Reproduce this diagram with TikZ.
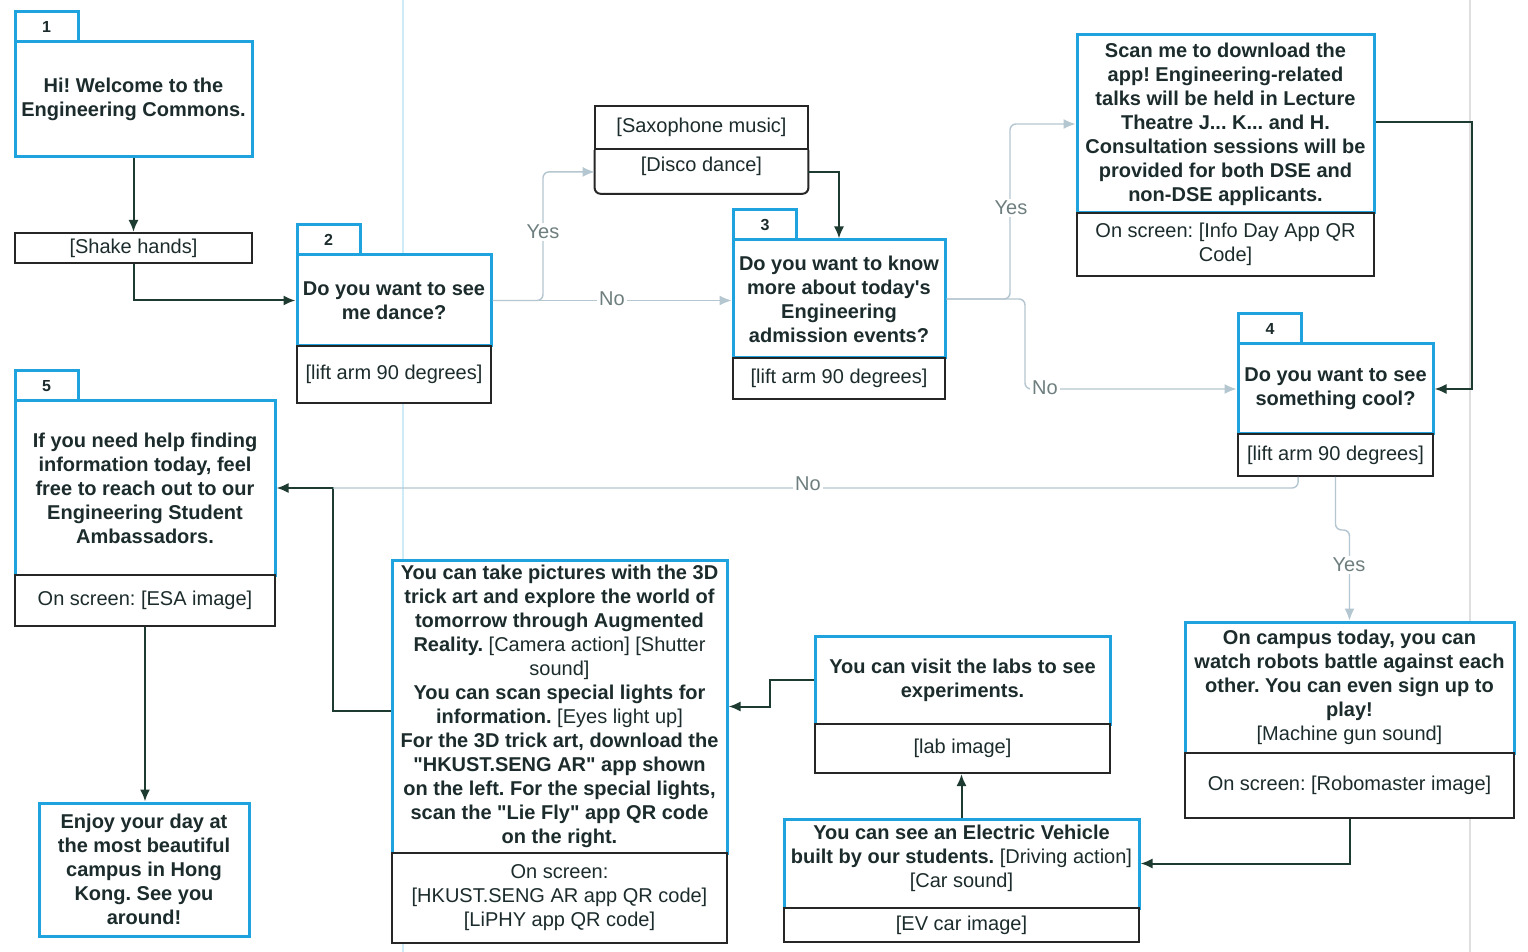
\documentclass[tikz,border=0pt]{standalone}
\usepackage{fontspec}
\setmainfont{Liberation Sans}[Ligatures=TeXOff]
\usetikzlibrary{arrows.meta,calc}
\definecolor{bl}{HTML}{1FA3DF}
\definecolor{dk}{HTML}{1D3B30}
\definecolor{tx}{HTML}{1C2B2B}
\definecolor{lt}{HTML}{B4C6D0}
\definecolor{lblc}{HTML}{6E7E7E}
\newcommand\bld[1]{\textbf{#1}}
\frenchspacing
\begin{document}
\begin{tikzpicture}[x=0.5pt,y=-0.5pt,
 every node/.style={font=\fontsize{10}{12}\selectfont, text=tx, align=center, inner sep=0pt},
 bfnt/.style={font=\fontsize{10}{12}\selectfont\bfseries},
 bbox/.style={draw=bl, line width=1.5pt, fill=white},
 kbox/.style={draw=black!85, line width=1pt, fill=white},
 numtab/.style={draw=bl, line width=1.5pt, fill=white, minimum width=31.5pt, minimum height=15pt, font=\fontsize{8}{10}\selectfont\bfseries},
 darr/.style={draw=dk, line width=1pt, -{Latex[length=6pt,width=5pt]}},
 larr/.style={draw=lt, line width=0.7pt, rounded corners=3pt, -{Latex[length=6pt,width=5pt]}},
 lline/.style={draw=lt, line width=0.7pt, rounded corners=3pt},
 cl/.style={fill=white, text=lblc, inner sep=1pt}
]
\fill[white] (0,0) rectangle (1528,952);
\useasboundingbox (0,0) rectangle (1528,952);
% faint guide lines
\draw[bl!22, line width=0.8pt] (403,0) -- (403,952);
\draw[gray!25, line width=0.6pt] (1470,0) -- (1470,952);

% node 1
\node[numtab] (t1) at (46.5,27) {1};
\node[bbox, bfnt, minimum width=118.5pt, minimum height=57.5pt] (n1) at (133.5,99.5) {Hi! Welcome to the\\Engineering Commons.};
\node[kbox, minimum width=118.5pt, minimum height=15pt] (shake) at (133.5,248) {[Shake hands]};

% node 2
\node[numtab] (t2) at (328.5,240) {2};
\node[bbox, bfnt, minimum width=97pt, minimum height=45.5pt] (n2) at (394,300.5) {Do you want to see\\me dance?};
\node[kbox, minimum width=97pt, minimum height=28.5pt] (n2b) at (394,374.5) {[lift arm 90 degrees]};

% saxophone
\node[kbox, minimum width=106.5pt, minimum height=21.5pt] (saxA) at (701.5,127.5) {[Saxophone music]};
\node[minimum width=106.5pt, minimum height=21.5pt, anchor=north] (saxB) at (saxA.south) {};
\node (saxT) at (701.5,166) {[Disco dance]};
\draw[black!85, line width=1pt, rounded corners=3pt] (saxB.north west) -- (saxB.south west) -- (saxB.south east) -- (saxB.north east);

% node 3
\node[numtab] (t3) at (765,225) {3};
\node[bbox, bfnt, minimum width=106pt, minimum height=59pt] (n3) at (839,299) {Do you want to know\\more about today's\\Engineering\\admission events?};
\node[kbox, minimum width=106pt, minimum height=20.5pt] (n3b) at (839,378.5) {[lift arm 90 degrees]};

% info box
\node[bbox, bfnt, minimum width=148.5pt, minimum height=89pt] (info) at (1225.5,124) {Scan me to download the\\app! Engineering-related\\talks will be held in Lecture\\Theatre J... K... and H.\\Consultation sessions will be\\provided for both DSE and\\non-DSE applicants.};
\node[kbox, minimum width=148.5pt, minimum height=31.5pt] (infob) at (1225.5,244.5) {On screen: [Info Day App QR\\Code]};

% node 4
\node[numtab] (t4) at (1270,329) {4};
\node[bbox, bfnt, minimum width=97.5pt, minimum height=45pt] (n4) at (1335.5,389) {Do you want to see\\something cool?};
\node[kbox, minimum width=97.5pt, minimum height=21pt] (n4b) at (1335.5,455) {[lift arm 90 degrees]};

% node 5
\node[numtab] (t5) at (46.5,386) {5};
\node[bbox, bfnt, minimum width=130pt, minimum height=87pt] (n5) at (145,488) {If you need help finding\\information today, feel\\free to reach out to our\\Engineering Student\\Ambassadors.};
\node[kbox, minimum width=130pt, minimum height=25.5pt] (n5b) at (145,600.5) {On screen: [ESA image]};

% final
\node[bbox, bfnt, minimum width=105pt, minimum height=66.5pt] (fin) at (144,869.5) {Enjoy your day at\\the most beautiful\\campus in Hong\\Kong. See you\\around!};

% AR box
\node[bbox, minimum width=167.5pt, minimum height=146.5pt] (ar) at (559.5,706.5) {\bld{You can take pictures with the 3D}\\\bld{trick art and explore the world of}\\\bld{tomorrow through Augmented}\\\bld{Reality.} [Camera action] [Shutter\\sound]\\\bld{You can scan special lights for}\\\bld{information.} [Eyes light up]\\\bld{For the 3D trick art, download the}\\\bld{"HKUST.SENG AR" app shown}\\\bld{on the left. For the special lights,}\\\bld{scan the "Lie Fly" app QR code}\\\bld{on the right.}};
\node[kbox, minimum width=167.5pt, minimum height=45pt] (arb) at (559.5,898) {On screen:\\{[}HKUST.SENG AR app QR code{]}\\{[}LiPHY app QR code{]}};

% lab
\node[bbox, bfnt, minimum width=147.5pt, minimum height=44pt] (lab) at (962.5,680) {You can visit the labs to see\\experiments.};
\node[kbox, minimum width=147.5pt, minimum height=24.5pt] (labb) at (962.5,748.5) {[lab image]};

% robomaster
\node[bbox, minimum width=164.5pt, minimum height=65.5pt] (robo) at (1349.5,687.5) {\bld{On campus today, you can}\\\bld{watch robots battle against each}\\\bld{other. You can even sign up to}\\\bld{play!}\\{[}Machine gun sound{]}};
\node[kbox, minimum width=164.5pt, minimum height=32.5pt] (robob) at (1349.5,785.5) {On screen: [Robomaster image]};

% EV
\node[bbox, minimum width=177.5pt, minimum height=44.5pt] (ev) at (961.5,863.5) {};
\node (evt) at (961.5,858) {\bld{You can see an Electric Vehicle}\\\bld{built by our students.} [Driving action]\\{[}Car sound{]}};
\node[kbox, minimum width=177.5pt, minimum height=17pt] (evb) at (961.5,925) {[EV car image]};

% coordinates
\coordinate (j2) at (543,300.5);
\coordinate (j3a) at (1010,299);
\coordinate (j3b) at (1025,299);
\coordinate (jinfo) at (1472,122);
\coordinate (j5) at (333,488);
\coordinate (jar) at (333,711);
\coordinate (jlab) at (770,680);
\coordinate (j4y) at (1349.5,530);

% dark connectors
\draw[darr] (n1.south) -- (shake.north);
\draw[darr] (shake.south) |- (n2.west);
\draw[darr] (saxB.east) -| (n3.north);
\draw[darr] (info.east |- jinfo) -- (jinfo) |- (n4.east);
\draw[darr] (robob.south) |- (ev.east);
\draw[darr] (ev.north) -- (ev.north |- labb.south);
\draw[darr] (lab.west) -- (jlab) |- (ar.east);
\draw[darr] (ar.west |- jar) -- (jar) |- (n5.east);
\draw[darr] (n5b.south) -- (n5b.south |- fin.north);

% light connectors
\draw[larr] (n2.east) -- (j2) |- (saxB.west);
\draw[larr] (n2.east) -- (n2.east -| n3.west);
\draw[larr] (n3.east) -- (j3a) |- (info.west);
\draw[larr] (n3.east) -- (j3b) |- (n4.west);
\draw[lline] ($(n4b.south west)!0.31!(n4b.south east)$) |- (j5);
\draw[larr] (n4b.south) |- (j4y) -- (robo.north);

% labels
\node[cl] (y1) at (543,232) {Yes};
\node[cl] (no1) at (612,299) {No};
\node[cl] (y2) at (1011,208) {Yes};
\node[cl] (no2) at (1045,388) {No};
\node[cl] (no3) at (808,484) {No};
\node[cl] (y3) at (1349,565) {Yes};
\end{tikzpicture}
\end{document}
